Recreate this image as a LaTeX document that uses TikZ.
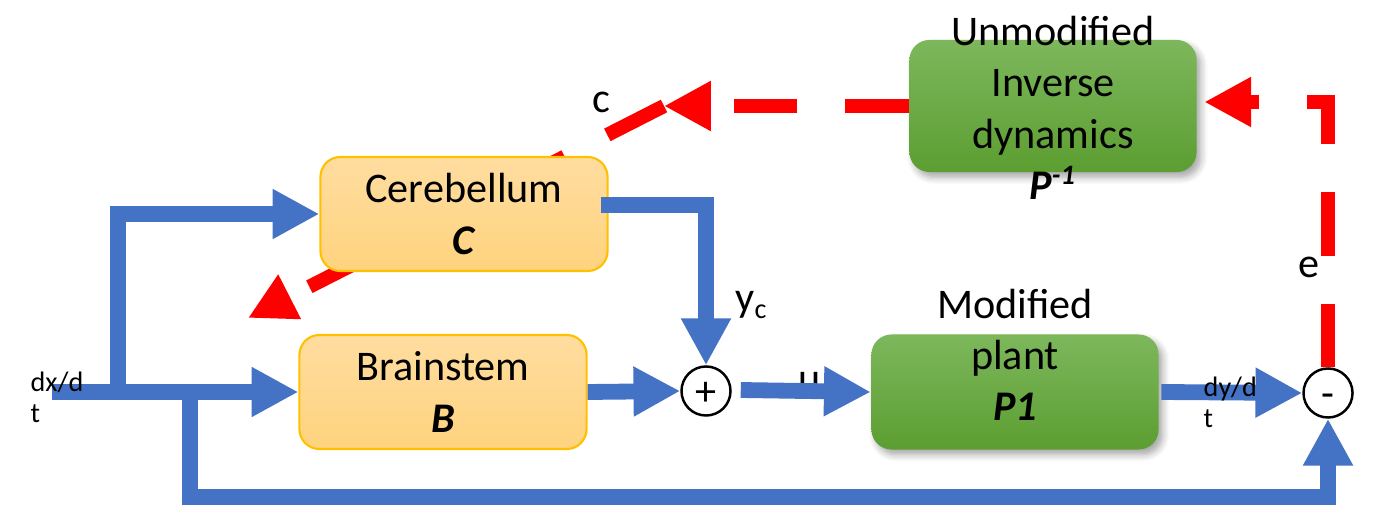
\documentclass[tikz,border=0pt]{standalone}
\usepackage{fontspec}
\setmainfont{Carlito}
\usetikzlibrary{arrows.meta, backgrounds, calc, positioning, shadows.blur}

\definecolor{sigblue}{HTML}{4472C4}
\definecolor{boxgold}{HTML}{FFC000}
\definecolor{orangetop}{HTML}{FFDDA0}
\definecolor{orangebot}{HTML}{FFD37E}
\definecolor{greentop}{HTML}{7DB75C}
\definecolor{greenbot}{HTML}{5C9E31}

\tikzset{
  block/.style={rounded corners=0.2cm, align=center, inner sep=0pt},
  cbox/.style={block, draw=boxgold, line width=0.6pt, top color=orangetop, bottom color=orangebot,
    minimum width=2.87cm, minimum height=1.14cm},
  pbox/.style={block, top color=greentop, bottom color=greenbot, minimum width=2.87cm,
    blur shadow={shadow xshift=1.2pt, shadow yshift=-1.5pt, shadow blur steps=6, shadow opacity=35}},
  sumnode/.style={circle, draw, line width=0.7pt, fill=white, minimum size=0.49cm, inner sep=0pt,
    text height=9pt, text depth=1pt},
  sig/.style={sigblue, line width=4.5pt, -{Triangle[length=13.3pt, width=13.3pt]}},
  learn/.style={red, line width=4pt, dash pattern=on 18.1pt off 13.6pt, -{Triangle[length=13.3pt, width=13.3pt]}},
  small/.style={font=\fontsize{8}{8.8}\selectfont, align=left, inner sep=0pt, anchor=north west}
}

\begin{document}
\begin{tikzpicture}[x=0.01cm, y=-0.01cm, font=\fontsize{12}{14.6}\selectfont]
  \useasboundingbox (0,0) rectangle (1377,507);

  % Blocks
  \node[cbox] (cereb) at (464,214) {Cerebellum\\\textbf{\textit{C}}};
  \node[cbox] (brain) at (443,392) {Brainstem\\\textbf{\textit{B}}};
  \node[pbox, minimum height=1.15cm] (plant) at (1015,392) {};
  \node[pbox, minimum height=1.32cm] (inv) at (1053,106) {};
  \node[align=center] (planttxt) at (1015,355) {Modified\\plant\\\textbf{\textit{P1}}};
  \node[align=center] (invtxt) at (1053,108) {Unmodified\\Inverse\\dynamics\\\textbf{\textit{P}\textsuperscript{\textit{-1}}}};

  % Summing points
  \node[sumnode] (sum) at (706,391) {+};
  \node[sumnode] (diff) at (1328,393) {-};

  \coordinate (in) at (52,392);
  \coordinate (fb) at (1328,497);
  \coordinate (cpt) at (664,106);
  \coordinate (ctip) at (248,318);

  % Signals
  \draw[sig] (in) -- (brain.west);
  \draw[sig] (118,392) |- (cereb.west);
  \draw[sig] (190,392) |- (fb) -- (diff.south);
  \draw[sig] ($(cereb.east)+(-8,-9)$) -| (sum.north);
  \draw[sig] (brain.east) -- (sum.west);
  \node (ulab) at (810,383) {u};
  \draw[sig] ($(sum.east)+(9,-1)$) -- (plant.west);
  \draw[sig] ($(plant.east)+(2,0)$) -- (diff.west);

  % Learning signal
  \draw[learn] (diff.north) |- ($(inv.east)+(7,-4)$);
  \draw[learn] (inv.west) -- (cpt);
  \begin{scope}[on background layer]
    \draw[learn] (cpt) -- (ctip);
  \end{scope}

  % Labels
  \node[small] (dxdt) at (30,371) {dx/d\\t};
  \node[small] (dydt) at (1203,376) {dy/d\\t};
  \node (yclab) at (752,305) {y\textsubscript{c}};
  \node (clab) at (601,102) {c};
  \node (elab) at (1309,267) {e};
\end{tikzpicture}
\end{document}
